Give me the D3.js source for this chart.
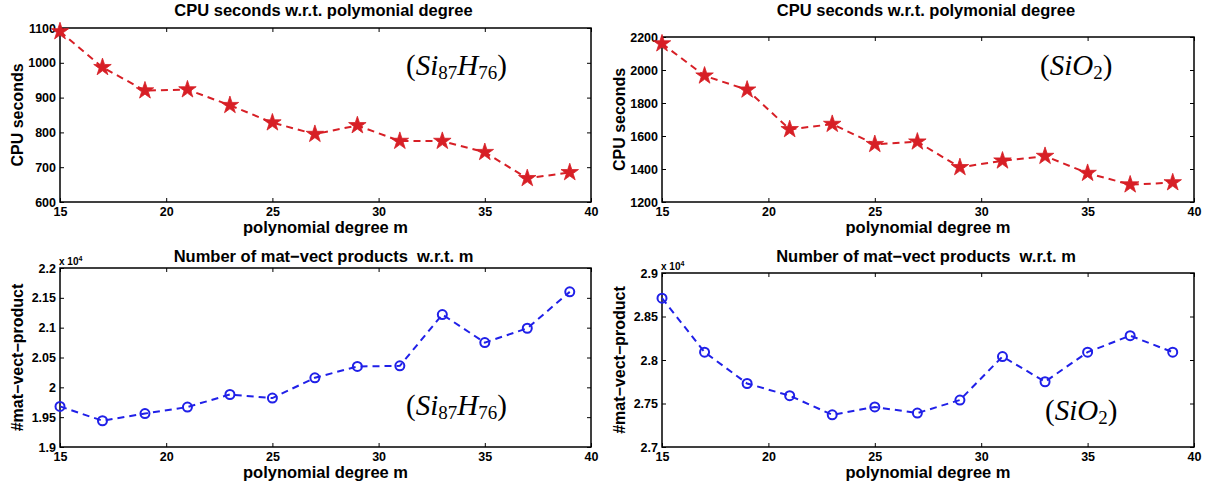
<!DOCTYPE html>
<html>
<head>
<meta charset="utf-8">
<script src="https://cdn.jsdelivr.net/npm/d3@7"></script>
<style>
  body { margin: 0; background: #fff; }
  svg text { font-family: "Liberation Sans", Arial, sans-serif; font-weight: bold; fill: #000; }
  .anno, .anno tspan { font-family: "Liberation Serif", "DejaVu Serif", serif; font-weight: normal; }
</style>
</head>
<body>
<svg id="chart" width="1211" height="486"></svg>
<script>
// polynomial degree m
const degrees = [15, 17, 19, 21, 23, 25, 27, 29, 31, 33, 35, 37, 39];

// CPU seconds
const cpuSiH = [1090, 987, 920, 923, 878, 828, 795, 820, 775, 775, 743, 668, 685];
const cpuSiO2 = [2160, 1965, 1880, 1640, 1672, 1550, 1565, 1410, 1450, 1478, 1375, 1305, 1318];

// number of mat-vect products
const mvSiH = [19680, 19440, 19560, 19670, 19880, 19820, 20160, 20350, 20360, 21220, 20750, 20990, 21600];
const mvSiO2 = [28710, 28090, 27730, 27590, 27370, 27460, 27390, 27540, 28040, 27750, 28090, 28280, 28090];

const xTicks = [15, 20, 25, 30, 35, 40];
const yTicksCpuSiH = [600, 700, 800, 900, 1000, 1100];
const yTicksCpuSiO2 = [1200, 1400, 1600, 1800, 2000, 2200];
const yTicksMvSiH = [19000, 19500, 20000, 20500, 21000, 21500, 22000];
const yTicksMvSiO2 = [27000, 27500, 28000, 28500, 29000];

const svg = d3.select("#chart");

const panels = [
    {box: [60, 28, 591, 202], vals: cpuSiH, yDom: [600, 1100], yTicks: yTicksCpuSiH, kind: "star",
     title: "CPU seconds w.r.t. polymonial degree", titleY: 16, ylab: "CPU seconds", mol: "SiH", anno: [406, 75], exp: false},
    {box: [662, 37, 1194, 202], vals: cpuSiO2, yDom: [1200, 2200], yTicks: yTicksCpuSiO2, kind: "star",
     title: "CPU seconds w.r.t. polymonial degree", titleY: 16, ylab: "CPU seconds", mol: "SiO", anno: [1040, 75], exp: false},
    {box: [60, 268, 591, 447], vals: mvSiH, yDom: [19000, 22000], yTicks: yTicksMvSiH, kind: "circle",
     title: "Number of mat\u2212vect products  w.r.t. m", titleY: 262, ylab: "#mat\u2212vect\u2212product", mol: "SiH", anno: [406, 415], exp: true},
    {box: [662, 273, 1194, 447], vals: mvSiO2, yDom: [27000, 29000], yTicks: yTicksMvSiO2, kind: "circle",
     title: "Number of mat\u2212vect products  w.r.t. m", titleY: 262, ylab: "#mat\u2212vect\u2212product", mol: "SiO", anno: [1045, 420], exp: true}
];

const red = "#d71f26";
const blue = "#2020e8";

function drawPanel(p) {
    let [x0, y0, x1, y1] = p.box;
    let x = d3.scaleLinear().domain([15, 40]).range([x0, x1]);
    let y = d3.scaleLinear().domain(p.yDom).range([y1, y0]);
    let g = svg.append("g");

    let fmt = v => p.exp ? String(+(v / 10000).toFixed(2)) : String(v);

    // axes, ticks inward
    g.append("g").attr("transform", "translate(0," + y1 + ")")
        .call(d3.axisBottom(x).tickValues(xTicks).tickSizeInner(-4).tickSizeOuter(0).tickPadding(5));
    g.append("g").attr("transform", "translate(0," + y0 + ")")
        .call(d3.axisTop(x).tickValues(xTicks).tickSizeInner(-4).tickSizeOuter(0).tickFormat(""));
    g.append("g").attr("transform", "translate(" + x0 + ",0)")
        .call(d3.axisLeft(y).tickValues(p.yTicks).tickSizeInner(-4).tickSizeOuter(0).tickPadding(4).tickFormat(fmt));
    g.append("g").attr("transform", "translate(" + x1 + ",0)")
        .call(d3.axisRight(y).tickValues(p.yTicks).tickSizeInner(-4).tickSizeOuter(0).tickFormat(""));
    g.selectAll(".domain").remove();
    g.selectAll(".tick line").attr("stroke", "#000").attr("stroke-width", 1);
    g.selectAll(".tick text").style("font-size", "12.5px");
    g.append("rect").attr("x", x0).attr("y", y0).attr("width", x1 - x0).attr("height", y1 - y0)
        .attr("fill", "none").attr("stroke", "#000").attr("stroke-width", 1.5);

    let col = p.kind === "star" ? red : blue;
    let line = d3.line().x((d, i) => x(degrees[i])).y(d => y(d));
    g.append("path").datum(p.vals).attr("d", line)
        .attr("fill", "none").attr("stroke", col).attr("stroke-width", 2)
        .attr("stroke-dasharray", "7,5");

    if (p.kind === "star") {
        g.selectAll(".pt").data(p.vals).enter().append("path")
            .attr("transform", (d, i) => "translate(" + x(degrees[i]) + "," + y(d) + ")")
            .attr("d", d3.symbol().type(d3.symbolStar).size(95))
            .attr("fill", col).attr("stroke", col).attr("stroke-width", 0.8);
    } else {
        g.selectAll(".pt").data(p.vals).enter().append("circle")
            .attr("cx", (d, i) => x(degrees[i])).attr("cy", d => y(d)).attr("r", 4.5)
            .attr("fill", "none").attr("stroke", col).attr("stroke-width", 2);
    }

    // titles and labels
    let cx = (x0 + x1) / 2;
    g.append("text").attr("x", cx - 2).attr("y", p.titleY)
        .attr("text-anchor", "middle").style("font-size", "16.5px").style("white-space", "pre").text(p.title);
    g.append("text").attr("x", cx).attr("y", y1 + 31)
        .attr("text-anchor", "middle").style("font-size", "16.5px").text("polynomial degree m");
    g.append("text").attr("transform", "translate(" + (x0 - 37) + "," + (y0 + y1) / 2 + ") rotate(-90)")
        .attr("text-anchor", "middle").style("font-size", "16px").text(p.ylab);

    if (p.exp) {
        let t = g.append("text").attr("x", x0 - 1).attr("y", y0 - 3).style("font-size", "10px");
        t.append("tspan").text("x 10");
        t.append("tspan").attr("dy", -4).style("font-size", "7px").text("4");
    }

    // molecule annotation
    let a = g.append("text").attr("class", "anno").attr("x", p.anno[0]).attr("y", p.anno[1]).style("font-size", "29px");
    a.append("tspan").text("(");
    a.append("tspan").style("font-style", "italic").text("Si");
    if (p.mol === "SiH") {
        a.append("tspan").attr("dy", 4).style("font-size", "19px").text("87");
        a.append("tspan").attr("dy", -4).style("font-style", "italic").text("H");
        a.append("tspan").attr("dy", 4).style("font-size", "19px").text("76");
        a.append("tspan").attr("dy", -4).text(")");
    } else {
        a.append("tspan").style("font-style", "italic").text("O");
        a.append("tspan").attr("dy", 4).style("font-size", "19px").text("2");
        a.append("tspan").attr("dy", -4).text(")");
    }
}

for (let p of panels) {
    drawPanel(p);
}
</script>
</body>
</html>
